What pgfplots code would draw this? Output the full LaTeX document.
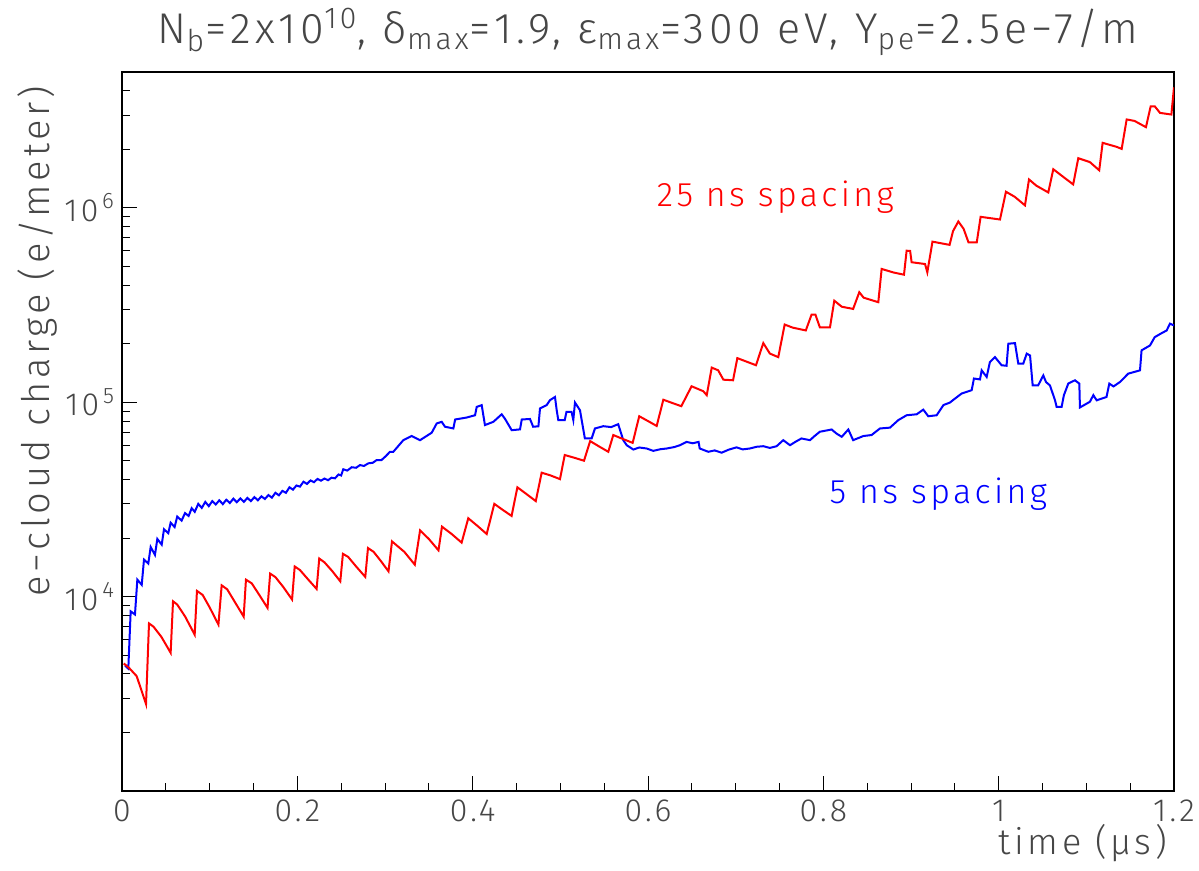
\documentclass[border=0pt]{standalone}
\usepackage{fontspec}
\setmainfont{Fira Sans}[UprightFont={* Light}, LetterSpace=10]
\usepackage{pgfplots}
\pgfplotsset{compat=1.18}
\definecolor{txt}{RGB}{70,70,70}
\begin{document}
\begin{tikzpicture}
\path[use as bounding box] (-61pt,-40pt) rectangle (538.5pt,395.5pt);
\begin{axis}[
  at={(0pt,0pt)}, anchor=south west,
  scale only axis, width=526pt, height=359.5pt,
  xmin=0, xmax=1.2, ymode=log, ymin=1000, ymax=5e6,
  axis line style={line width=0.8pt},
  tick style={black, line width=0.5pt},
  major tick length=7.5pt, minor tick length=4pt,
  tick pos=left, tick align=inside,
  xtick={0,0.2,0.4,0.6,0.8,1,1.2},
  xticklabels={0,0.2,0.4,0.6,0.8,1,1.2},
  minor x tick num=3,
  ytick={1e4,1e5,1e6},
  yticklabels={10\textsuperscript{\,4},10\textsuperscript{\,5},10\textsuperscript{\,6}},
  minor ytick={2000,3000,4000,5000,6000,7000,8000,9000,20000,30000,40000,50000,60000,70000,80000,90000,200000,300000,400000,500000,600000,700000,800000,900000,2e6,3e6,4e6,5e6},
  tick label style={font=\fontsize{16}{16}\selectfont, text=txt},
  xticklabel style={yshift=-1pt},
  xlabel={time (μs)},
  xlabel style={at={(axis description cs:1,0)}, anchor=north east, yshift=-13pt, font=\fontsize{18}{18}\selectfont, text=txt},
  ylabel={e−cloud charge (e/meter)},
  ylabel style={at={(axis description cs:-0.08,0.99)}, anchor=east, rotate=0, font=\fontsize{19}{19}\selectfont, text=txt},
  title={N\textsubscript{b}=2x10\textsuperscript{10}, δ\textsubscript{max}=1.9, ε\textsubscript{max}=300 eV, Y\textsubscript{pe}=2.5e−7/m},
  title style={at={(axis description cs:0.5,1)}, anchor=center, yshift=14pt, font=\fontsize{21.5}{21.5}\selectfont, text=txt},
]
\addplot[blue, line width=1pt] coordinates {
(0.0034,4430)(0.0072,4260)(0.0099,8400)(0.0148,8090)(0.0175,12220)(0.0225,11500)
(0.0251,15500)(0.030,14800)(0.0327,18000)(0.0376,16400)(0.0403,19800)(0.0453,18500)
(0.0479,22200)(0.0528,21200)(0.0555,24000)(0.060,22800)(0.063,25800)(0.068,24600)
(0.0719,26900)(0.076,26000)(0.0795,28500)(0.083,27300)(0.087,30000)(0.091,28600)
(0.095,30700)(0.099,29200)(0.103,31000)(0.107,29800)(0.111,31300)(0.115,29900)
(0.119,31500)(0.123,30300)(0.127,31900)(0.131,30600)(0.135,32000)(0.139,30700)
(0.143,32200)(0.147,31000)(0.151,32500)(0.155,31300)(0.159,32800)(0.163,31800)
(0.167,33300)(0.171,32300)(0.175,34200)(0.179,33200)(0.183,35000)(0.187,34200)
(0.191,36500)(0.195,35500)(0.199,37300)(0.203,36800)(0.207,39000)(0.211,38000)
(0.215,39600)(0.219,38800)(0.223,40300)(0.227,39500)(0.231,40500)(0.235,39700)
(0.239,40900)(0.243,40600)(0.247,42500)(0.250,42000)(0.2524,45200)(0.257,44500)
(0.262,46300)(0.267,46000)(0.2715,47500)(0.276,47000)(0.281,48500)(0.286,48800)
(0.2905,50400)(0.296,50400)(0.3009,52800)(0.3057,55600)(0.3095,55600)(0.3209,63800)
(0.3304,67000)(0.340,63800)(0.3533,69700)(0.359,77800)(0.3647,79300)(0.3684,74800)
(0.378,73300)(0.380,81500)(0.393,83400)(0.4027,85700)(0.4046,94600)(0.4103,96600)
(0.414,76300)(0.4236,79300)(0.4331,86700)(0.437,82000)(0.4445,71800)(0.454,72500)
(0.456,81500)(0.4654,82000)(0.469,74800)(0.475,75200)(0.4768,92900)(0.4844,96600)
(0.4882,102500)(0.4939,106400)(0.4960,90000)(0.4977,80900)(0.505,80900)(0.507,89100)
(0.5128,89100)(0.5148,81000)(0.5167,99600)(0.5224,91000)(0.528,65100)(0.5357,65100)
(0.5395,73300)(0.549,75300)(0.558,74500)(0.566,77100)(0.5718,63800)(0.5757,60100)
(0.5833,57100)(0.590,58500)(0.5985,57800)(0.606,56200)(0.614,57300)(0.6213,57800)
(0.630,58800)(0.6365,60100)(0.644,62500)(0.651,61500)(0.6577,62500)(0.659,57800)
(0.6688,55600)(0.676,56500)(0.684,55000)(0.692,57000)(0.701,58600)(0.708,57200)
(0.716,57800)(0.724,59000)(0.7315,59400)(0.739,58200)(0.7467,59400)(0.7543,63800)
(0.762,60100)(0.768,62500)(0.775,65100)(0.7848,63800)(0.790,67000)(0.796,70500)
(0.8095,72400)(0.815,69000)(0.821,66400)(0.8285,72400)(0.834,63800)(0.8456,67000)
(0.855,67800)(0.8646,73300)(0.876,74000)(0.8855,80900)(0.895,85700)(0.9065,86700)
(0.914,91600)(0.9197,84700)(0.9293,85700)(0.937,96700)(0.9444,99600)(0.948,102600)
(0.9578,110900)(0.9692,115300)(0.9718,132400)(0.9787,131000)(0.9806,145900)(0.9863,134900)
(0.990,161000)(0.9958,170600)(1.0034,154900)(1.009,154000)(1.011,200000)(1.0186,201400)
(1.0224,157800)(1.028,157800)(1.032,177800)(1.0358,174000)(1.0388,122000)(1.045,122000)
(1.0509,137400)(1.054,127000)(1.0585,122000)(1.0642,102600)(1.0661,94600)(1.0718,94600)
(1.0744,108700)(1.0794,124700)(1.087,129700)(1.092,124700)(1.0927,94000)(1.104,100500)
(1.108,108700)(1.1118,102300)(1.123,106400)(1.1262,124700)(1.131,120600)(1.1383,127000)
(1.1478,140300)(1.1612,145900)(1.163,184900)(1.1726,195900)(1.178,216200)(1.186,226800)
(1.1916,233900)(1.1954,253600)(1.2,248300)
};
\addplot[red, line width=1pt] coordinates {
(0.002,4530)(0.008,4300)(0.0167,3900)(0.0205,3470)(0.0274,2800)
(0.0308,7280)(0.036,7000)(0.045,6200)(0.0555,5140)
(0.0582,9460)(0.063,9100)(0.072,7900)(0.0829,6370)
(0.0855,10700)(0.092,10200)(0.100,8800)(0.110,7180)
(0.1137,11430)(0.120,10900)(0.128,9500)(0.1388,7890)
(0.1414,12220)(0.148,11700)(0.156,10300)(0.166,8750)
(0.169,13130)(0.175,12600)(0.184,11200)(0.194,9660)
(0.197,14290)(0.203,13700)(0.212,12300)(0.222,10950)
(0.225,15700)(0.231,15000)(0.240,13500)(0.249,11980)
(0.252,16600)(0.258,16000)(0.267,14300)(0.2775,12630)
(0.2806,17780)(0.287,17000)(0.295,15300)(0.304,13490)
(0.308,19230)(0.322,17000)(0.334,14600)
(0.340,21900)(0.350,19800)(0.361,17300)
(0.365,22900)(0.376,21000)(0.3874,18960)
(0.395,25300)(0.405,23200)(0.416,21000)
(0.4247,30000)(0.434,28000)(0.4444,26000)
(0.451,36500)(0.461,33800)(0.472,31000)
(0.4787,43400)(0.489,42000)(0.4996,40200)
(0.505,53500)(0.516,51800)(0.527,50000)
(0.534,63100)(0.544,59300)(0.5547,55600)
(0.5604,67800)(0.571,64800)(0.5825,61800)
(0.590,84700)(0.600,80000)(0.6099,75500)
(0.6175,103000)(0.628,99000)(0.638,95400)
(0.6497,120800)(0.657,117000)(0.663,114000)(0.667,108700)
(0.6727,150700)(0.680,146000)(0.686,130600)(0.697,129700)
(0.7019,168600)(0.712,162000)(0.7232,155000)
(0.7315,201500)(0.739,178000)(0.7486,170600)
(0.7559,251000)(0.765,242000)(0.780,234000)
(0.7866,282500)(0.791,282000)(0.796,243000)(0.8076,243000)
(0.8125,333000)(0.821,310000)(0.834,302000)
(0.841,368000)(0.846,345000)(0.8627,327000)
(0.8665,485000)(0.880,465000)(0.892,453000)
(0.895,602000)(0.899,600000)(0.9007,525000)(0.916,514000)(0.9186,466000)
(0.9245,670000)(0.944,645000)(0.948,760000)(0.954,851000)(0.960,780000)(0.9656,664000)(0.975,664000)
(0.9794,899000)(1.0015,871000)
(1.0083,1210000)(1.0183,1140000)(1.030,1030000)
(1.0346,1400000)(1.043,1300000)(1.0566,1200000)
(1.0623,1580000)(1.0757,1420000)(1.085,1320000)
(1.0908,1800000)(1.104,1720000)(1.1147,1560000)
(1.1186,2160000)(1.1345,2060000)(1.1403,2010000)
(1.146,2850000)(1.155,2800000)(1.168,2600000)
(1.1734,3330000)(1.178,3330000)(1.184,3080000)(1.197,3020000)
(1.2,4170000)
};
\node[text=red, font=\fontsize{17}{17}\selectfont] at (rel axis cs:0.621,0.826) {25 ns spacing};
\node[text=blue, font=\fontsize{17}{17}\selectfont] at (rel axis cs:0.776,0.413) {5 ns spacing};
\end{axis}
\end{tikzpicture}
\end{document}
